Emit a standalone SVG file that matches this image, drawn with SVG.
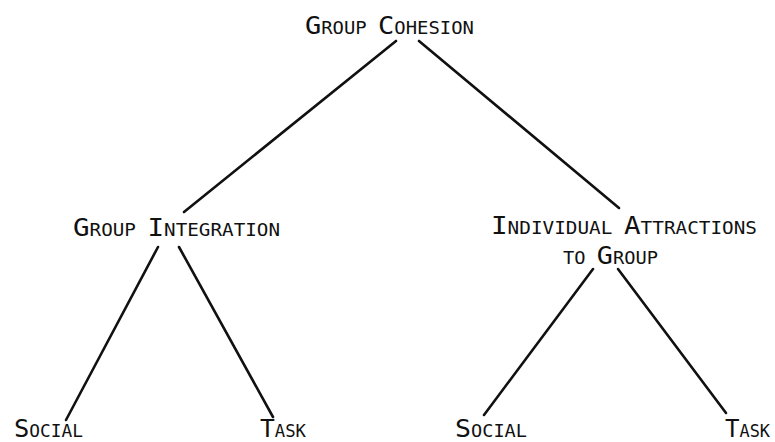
<svg xmlns="http://www.w3.org/2000/svg" width="775" height="442" viewBox="0 0 775 442">
<style>
.lbl{font-family:"DejaVu Sans Mono","Liberation Mono",monospace;font-size:17.5px;fill:#111;}
.c{font-size:25px;}
.edge{stroke:#111;stroke-width:2.6;stroke-linecap:round;fill:none;}
</style>
<rect width="775" height="442" fill="#fff"/>
<g id="connectors">
<line class="edge" x1="396" y1="41" x2="184" y2="212"/>
<line class="edge" x1="419" y1="41" x2="619" y2="208"/>
<line class="edge" x1="158" y1="247" x2="66" y2="420"/>
<line class="edge" x1="179" y1="247" x2="273" y2="417"/>
<line class="edge" x1="593" y1="269" x2="484" y2="415"/>
<line class="edge" x1="618" y1="269" x2="726" y2="413"/>
</g>
<g id="n-cohesion"><text class="lbl" x="305" y="34" textLength="169" lengthAdjust="spacingAndGlyphs"><tspan class="c">G</tspan>ROUP <tspan class="c">C</tspan>OHESION</text></g>
<g id="n-integration"><text class="lbl" x="73" y="236" textLength="207" lengthAdjust="spacingAndGlyphs"><tspan class="c">G</tspan>ROUP <tspan class="c">I</tspan>NTEGRATION</text></g>
<g id="n-attractions"><text class="lbl" x="491" y="234" textLength="266" lengthAdjust="spacingAndGlyphs"><tspan class="c">I</tspan>NDIVIDUAL <tspan class="c">A</tspan>TTRACTIONS</text><text class="lbl" x="563" y="264" textLength="95" lengthAdjust="spacingAndGlyphs">TO <tspan class="c">G</tspan>ROUP</text></g>
<g id="n-gi-social"><text class="lbl" x="14" y="437" textLength="69" lengthAdjust="spacingAndGlyphs"><tspan class="c">S</tspan>OCIAL</text></g>
<g id="n-gi-task"><text class="lbl" x="260" y="437" textLength="46" lengthAdjust="spacingAndGlyphs"><tspan class="c">T</tspan>ASK</text></g>
<g id="n-ia-social"><text class="lbl" x="455" y="437" textLength="72" lengthAdjust="spacingAndGlyphs"><tspan class="c">S</tspan>OCIAL</text></g>
<g id="n-ia-task"><text class="lbl" x="725" y="437" textLength="45" lengthAdjust="spacingAndGlyphs"><tspan class="c">T</tspan>ASK</text></g>
</svg>
